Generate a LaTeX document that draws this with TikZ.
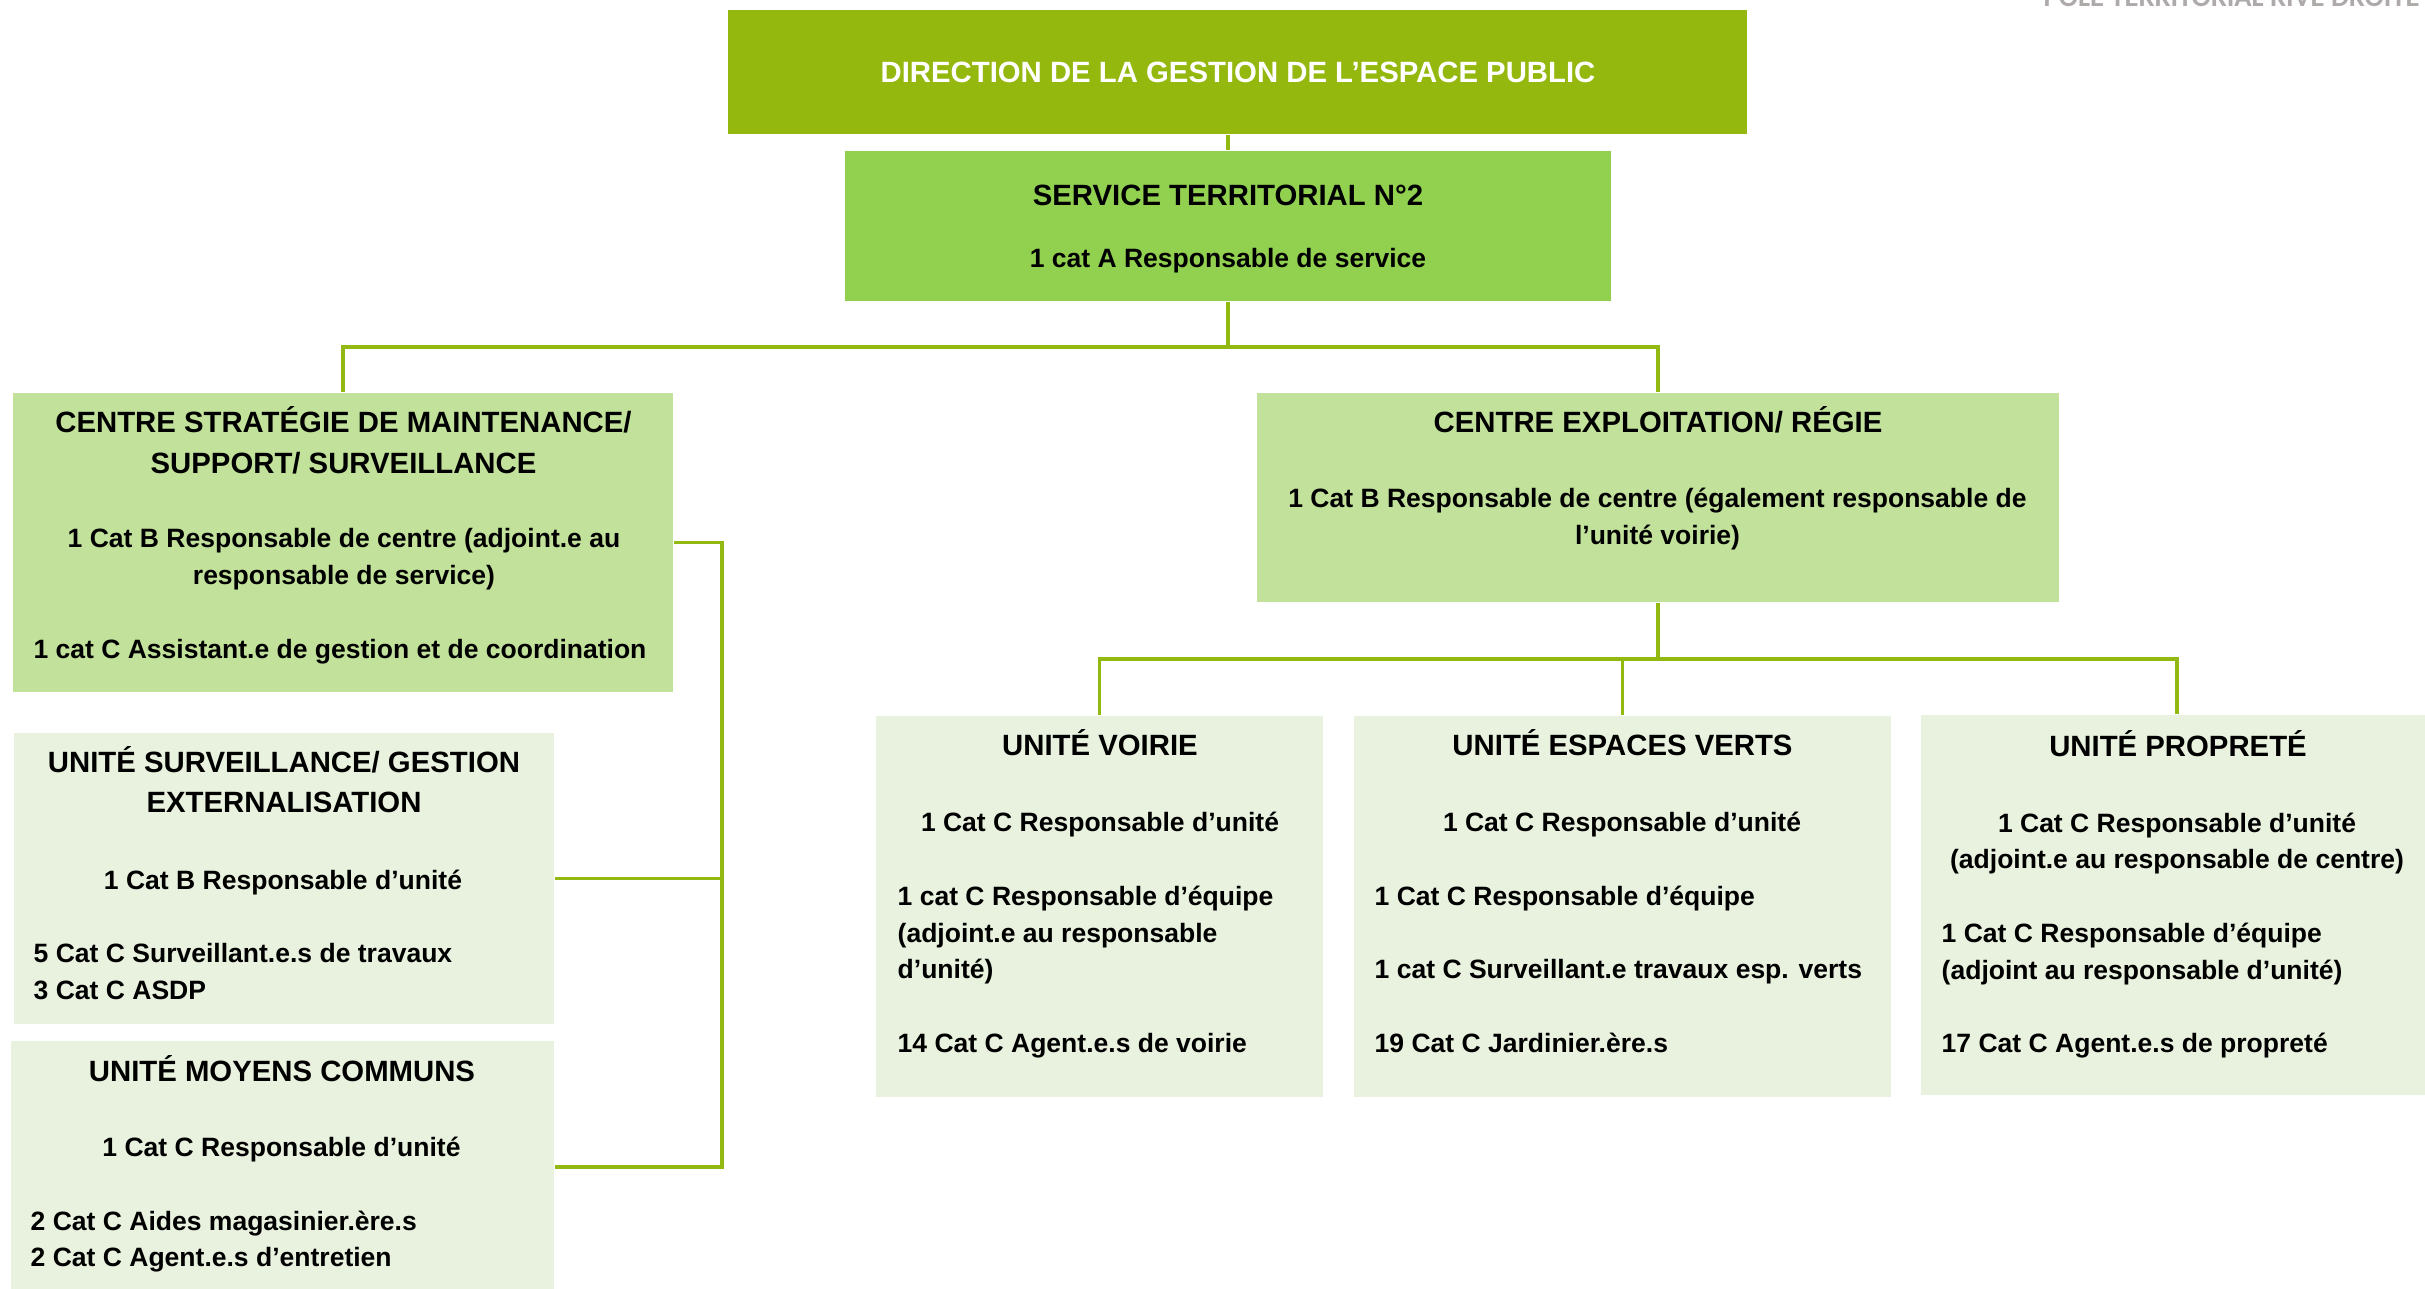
\documentclass[tikz,border=0pt]{standalone}
\usepackage{fontspec}
\setmainfont{Liberation Sans}
\newfontfamily\calib{Carlito}
\definecolor{dirc}{HTML}{94B80E}
\definecolor{servc}{HTML}{92D050}
\definecolor{centc}{HTML}{C2E19A}
\definecolor{unitc}{HTML}{E8F2DE}
\definecolor{linkc}{HTML}{92B812}
\definecolor{headc}{HTML}{AEAAAA}
\tikzset{
  box/.style={rectangle, inner sep=0pt, draw=none},
  ttl/.style={inner sep=0pt, font=\fontsize{8.34}{10}\selectfont\bfseries, anchor=base},
  txt/.style={inner sep=0pt, font=\fontsize{7.54}{9}\selectfont\bfseries, anchor=base},
  txl/.style={txt, anchor=base west},
  link/.style={draw=linkc, line width=0.9pt}
}
\begin{document}
\begin{tikzpicture}[x=0.01cm, y=-0.01cm]
\useasboundingbox (0,0) rectangle (2425,1289);
\clip (0,0) rectangle (2425,1289);
\fill[white] (0,0) rectangle (2425,1289);

% header
\node[inner sep=0pt, anchor=base west, text=headc, font=\calib\fontsize{8.1}{10}\selectfont\bfseries] (head) at (2043,7) {POLE TERRITORIAL RIVE DROITE};

% boxes
\node[box, fill=dirc, minimum width=10.19cm, minimum height=1.24cm] (dir) at (1237.5,72) {};
\node[box, fill=servc, minimum width=7.65cm, minimum height=1.50cm] (serv) at (1228,226) {};
\node[box, fill=centc, minimum width=6.60cm, minimum height=2.99cm] (lc) at (343,542.5) {};
\node[box, fill=centc, minimum width=8.02cm, minimum height=2.09cm] (rc) at (1658,497.5) {};
\node[box, fill=unitc, minimum width=5.40cm, minimum height=2.91cm] (surv) at (284,878.5) {};
\node[box, fill=unitc, minimum width=5.43cm, minimum height=2.70cm] (mc) at (282.5,1176) {};
\node[box, fill=unitc, minimum width=4.47cm, minimum height=3.81cm] (voi) at (1099.5,906.5) {};
\node[box, fill=unitc, minimum width=5.37cm, minimum height=3.81cm] (ev) at (1622.5,906.5) {};
\node[box, fill=unitc, minimum width=5.12cm, minimum height=3.80cm] (prop) at (2177,905) {};

% connectors
\coordinate (j1) at (1228,347);
\coordinate (bt) at (722,542.5);
\coordinate (bb) at (722,1167);
\coordinate (j2) at (1658,659);
\draw[link] (serv.north) -- (serv.north |- dir.south);
\draw[link] (serv.south) -- (j1);
\draw[link] (lc.north) |- (j1) -| (rc.north);
\draw[link] (lc.east) -- (bt) -- (bb) -- (bb -| mc.east);
\draw[link] (surv.east) -- (surv.east -| bt);
\draw[link] (rc.south) -- (j2);
\draw[link] (voi.north) |- (j2) -| (prop.north);
\draw[link] (ev.north) -- (ev.north |- j2);

% texts: direction / service
\node[ttl, text=white] (t1) at (1238,83) {DIRECTION DE LA GESTION DE L’ESPACE PUBLIC};
\node[ttl] (t2) at (1228,206) {SERVICE TERRITORIAL N°2};
\node[txt] (t3) at (1228,268) {1 cat A Responsable de service};

% left centre
\node[ttl] (t4) at (343.5,433) {CENTRE STRATÉGIE DE MAINTENANCE/};
\node[ttl] (t5) at (343.5,474) {SUPPORT/ SURVEILLANCE};
\node[txt] (t6) at (344,548) {1 Cat B Responsable de centre (adjoint.e au};
\node[txt] (t7) at (344,585) {responsable de service)};
\node[txt] (t8) at (340,659) {1 cat C Assistant.e de gestion et de coordination};

% right centre
\node[ttl] (t9) at (1658,433) {CENTRE EXPLOITATION/ RÉGIE};
\node[txt] (t10) at (1657.5,508) {1 Cat B Responsable de centre (également responsable de};
\node[txt] (t11) at (1657.5,545) {l’unité voirie)};

% surveillance
\node[ttl] (t12) at (284,773) {UNITÉ SURVEILLANCE/ GESTION};
\node[ttl] (t13) at (284,813) {EXTERNALISATION};
\node[txt] (t14) at (283,889) {1 Cat B Responsable d’unité};
\node[txl] (t15) at (33,962) {5 Cat C Surveillant.e.s de travaux};
\node[txl] (t16) at (33,999) {3 Cat C ASDP};

% moyens communs
\node[ttl] (t17) at (282,1081) {UNITÉ MOYENS COMMUNS};
\node[txt] (t18) at (281.5,1156) {1 Cat C Responsable d’unité};
\node[txl] (t19) at (30,1230) {2 Cat C Aides magasinier.ère.s};
\node[txl] (t20) at (30,1266) {2 Cat C Agent.e.s d’entretien};

% voirie
\node[ttl] (t21) at (1100,756) {UNITÉ VOIRIE};
\node[txt] (t22) at (1100,831) {1 Cat C Responsable d’unité};
\node[txl] (t23) at (897,905) {1 cat C Responsable d’équipe};
\node[txl] (t24) at (897,942) {(adjoint.e au responsable};
\node[txl] (t25) at (897,978) {d’unité)};
\node[txl] (t26) at (897,1052) {14 Cat C Agent.e.s de voirie};

% espaces verts
\node[ttl] (t27) at (1622.5,756) {UNITÉ ESPACES VERTS};
\node[txt] (t28) at (1622,831) {1 Cat C Responsable d’unité};
\node[txl] (t29) at (1374,905) {1 Cat C Responsable d’équipe};
\node[txl] (t30) at (1374,978) {1 cat C Surveillant.e travaux esp. verts};
\node[txl] (t31) at (1374,1052) {19 Cat C Jardinier.ère.s};

% proprete
\node[ttl] (t32) at (2178,757) {UNITÉ PROPRETÉ};
\node[txt] (t33) at (2177,832) {1 Cat C Responsable d’unité};
\node[txt] (t34) at (2177,868) {(adjoint.e au responsable de centre)};
\node[txl] (t35) at (1941,942) {1 Cat C Responsable d’équipe};
\node[txl] (t36) at (1941,979) {(adjoint au responsable d’unité)};
\node[txl] (t37) at (1941,1052) {17 Cat C Agent.e.s de propreté};
\end{tikzpicture}
\end{document}
